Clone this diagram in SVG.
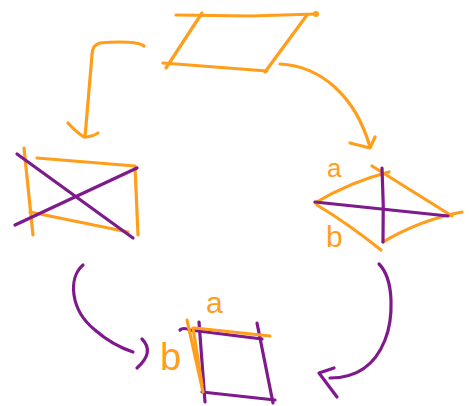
<svg xmlns="http://www.w3.org/2000/svg" width="469" height="406" viewBox="0 0 469 406">
<style>
.o{fill:none;stroke:#FF9E1B;stroke-width:3.2;stroke-linecap:round;stroke-linejoin:round}
.p{fill:none;stroke:#7E1A8C;stroke-width:3.2;stroke-linecap:round;stroke-linejoin:round}
.lbl{fill:#FF9E1B;font-family:"Liberation Sans",Arial,sans-serif}
</style>
<rect width="469" height="406" fill="#fff"/>
<g id="parallelogram">
<path class="o" d="M176,15 L250,16 L316,14"/>
<path class="o" d="M202,13 L166,68"/>
<path class="o" d="M163,63 L267,71"/>
<path class="o" d="M307,15 L265,72"/>
<circle cx="316" cy="14" r="3" fill="#FF9E1B"/>
</g>
<g id="rectangle">
<path class="o" d="M24,148 L33,235"/>
<path class="o" d="M37,158 L135,166"/>
<path class="o" d="M135,167 L138,235"/>
<path class="o" d="M30,212 L128,232"/>
<path class="p" d="M17,154 L133,238"/>
<path class="p" d="M15,225 L137,168"/>
</g>
<g id="rhombus">
<path class="o" d="M315,203 Q350,182 389,172"/>
<path class="o" d="M372,166 L452,216"/>
<path class="o" d="M317,205 Q350,225 381,250"/>
<path class="o" d="M383,242 Q420,220 462,212"/>
<path class="p" d="M315,202 L448,216"/>
<path class="p" d="M382,168 Q384,205 383,242"/>
<text class="lbl" x="327" y="177" font-size="26">a</text>
<text class="lbl" x="326" y="247" font-size="30">b</text>
</g>
<g id="square">
<path class="p" d="M180,330 Q183,327 190,330 L262,339"/>
<path class="p" d="M199,322 L205,402"/>
<path class="p" d="M257,323 L273,403"/>
<path class="p" d="M202,392 L275,400"/>
<path class="o" d="M195,328 L270,336" stroke-width="6"/>
<path class="o" d="M187,320 L203,392"/>
<path class="o" d="M193,328 L202,385"/>
<text class="lbl" x="206" y="313" font-size="30">a</text>
<text class="lbl" x="160" y="370" font-size="38">b</text>
</g>
<g id="connectors">
<path class="o" d="M144,46 C140,42 120,41 100,43 Q92,45 92,55 L85,137"/>
<path class="o" d="M68,123 Q76,132 84,137 Q92,137 98,133"/>
<path class="o" d="M280,64 C320,66 355,95 370,147"/>
<path class="o" d="M350,143 L370,148 L375,137"/>
<path class="p" d="M83,265 C68,278 70,310 95,330 Q112,345 133,352"/>
<path class="p" d="M142,339 Q155,352 137,368"/>
<path class="p" d="M379,264 C395,280 393,320 385,340 Q370,378 330,378"/>
<path class="p" d="M334,368 L319,373 L337,397"/>
</g>
</svg>
